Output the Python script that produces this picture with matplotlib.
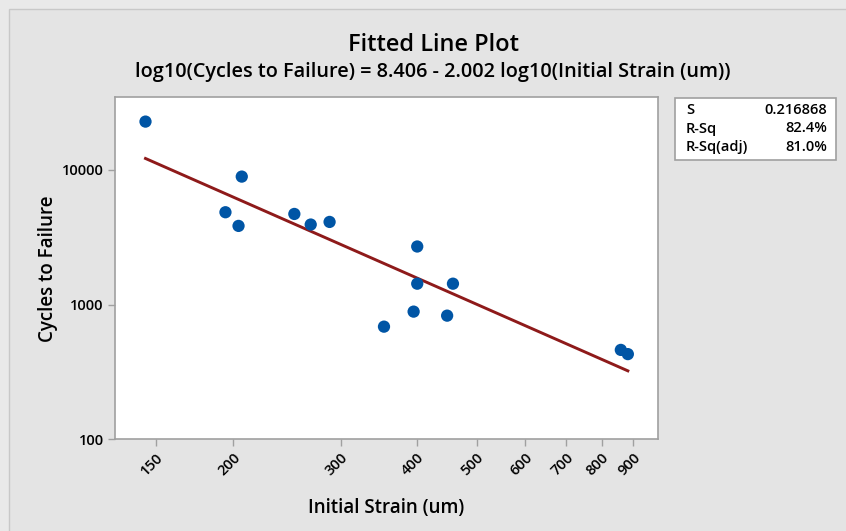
import numpy as np
import matplotlib.pyplot as plt
from matplotlib.patches import Rectangle

# strain (um) and cycles to failure
strain = [144, 194.5, 206.8, 204.3, 252, 268, 287.7, 400, 400, 457.5,
          353, 394.6, 447.6, 860, 883]
cycles = [22840, 4850, 8920, 3840, 4710, 3930, 4110, 2700, 1430, 1430,
          686, 887, 828, 461, 429]

# regression in log-log space
b0 = 8.406
b1 = -2.002
stat_names = ["S", "R-Sq", "R-Sq(adj)"]
stat_vals = ["0.216868", "82.4%", "81.0%"]

xticks = [150, 200, 300, 400, 500, 600, 700, 800, 900]
yticks = [100, 1000, 10000]

plt.rcParams['font.family'] = ['Open Sans', 'DejaVu Sans']
bg = "#e4e4e4"

fig = plt.figure(figsize=(8.46, 5.31), dpi=100)
fig.patch.set_facecolor("#e9e9e9")
fig.patches.append(Rectangle((9 / 846, -0.01), 1.0, 1 - 9 / 531 + 0.01,
                             transform=fig.transFigure, facecolor=bg,
                             edgecolor="#c8c8c8", lw=1, zorder=-5))

ax = fig.add_axes([115 / 846, 1 - 439.3 / 531, 543 / 846, 342 / 531])
ax.set_zorder(2)
ax.set_facecolor("white")
ax.set_xscale("log")
ax.set_yscale("log")

xs = np.linspace(min(strain), max(strain), 50)
ax.plot(xs, 10 ** (b0 + b1 * np.log10(xs)), color="#8e1a1a", lw=2.1, zorder=2)
ax.scatter(strain, cycles, s=78, color="#0055a5", edgecolor="none", zorder=3)

ax.set_xlim(128.4, 989)
ax.set_ylim(100, 34600)
ax.set_xticks(xticks)
ax.set_xticklabels([str(t) for t in xticks], rotation=45, ha="right",
                   rotation_mode="anchor", fontsize=10.5, fontweight="semibold")
ax.xaxis.set_minor_locator(plt.NullLocator())
ax.set_yticks(yticks)
ax.set_yticklabels([str(t) for t in yticks], fontsize=10.5, fontweight="semibold")
ax.yaxis.set_minor_locator(plt.NullLocator())
ax.tick_params(direction="out", length=5, width=1, color="#a0a0a0", pad=3)
for sp in ax.spines.values():
    sp.set_color("#a0a0a0")
    sp.set_linewidth(1.2)

ax.set_xlabel("Initial Strain (um)", fontsize=13.5, fontweight="semibold", labelpad=14)
ax.set_ylabel("Cycles to Failure", fontsize=13.5, fontweight="semibold", labelpad=3)

fig.text(433 / 846, 1 - 45 / 531, "Fitted Line Plot", ha="center", va="center",
         fontsize=17, fontweight="semibold")
fig.text(433 / 846, 1 - 72 / 531,
         "log10(Cycles to Failure) = %.3f - %.3f log10(Initial Strain (um))" % (b0, -b1),
         ha="center", va="center", fontsize=14.3, fontweight="semibold")

# summary box
fig.patches.append(Rectangle((675 / 846, 1 - 160 / 531), 161 / 846, 62 / 531,
                             transform=fig.transFigure, facecolor="white",
                             edgecolor="#a0a0a0", lw=1.2, zorder=1))
for i, (n, v) in enumerate(zip(stat_names, stat_vals)):
    y = 1 - (110 + 18.5 * i) / 531
    fig.text(686 / 846, y, n, ha="left", va="center", fontsize=10.5, fontweight="semibold")
    fig.text(827 / 846, y, v, ha="right", va="center", fontsize=10.5, fontweight="semibold")

fig.savefig("out.png", dpi=100, facecolor=fig.get_facecolor())
